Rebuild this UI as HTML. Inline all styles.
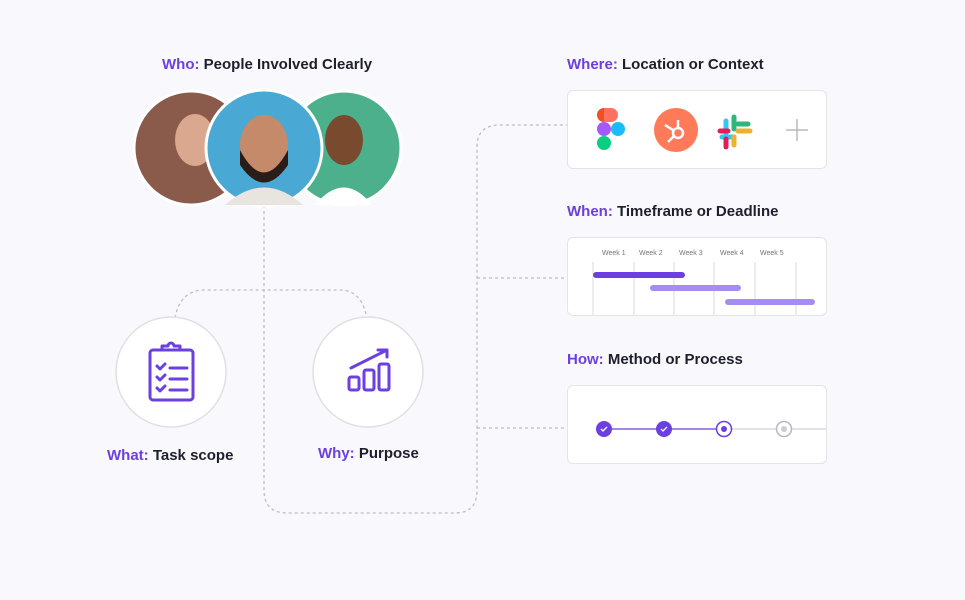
<!DOCTYPE html>
<html><head><style>
body{margin:0;width:965px;height:600px;background:#f8f8fd;font-family:"Liberation Sans",sans-serif;position:relative;overflow:hidden}
.t{position:absolute;font-size:15px;font-weight:bold;color:#1f1f2b;white-space:nowrap}
.t b{color:#6b3fe0}
.card{position:absolute;left:567px;width:258px;background:#fff;border:1.5px solid #e3e3e8;border-radius:6px}
</style></head><body>
<svg width="965" height="600" style="position:absolute;left:0;top:0">
<g fill="none" stroke="#bdbdc6" stroke-width="1.3" stroke-dasharray="3 3">
<path d="M264 205 V490 Q264 513 287 513 H455 Q477 513 477 490 V147 Q477 125 500 125 H567"/>
<path d="M477 278 H567 M477 428 H567"/>
<path d="M175 318 Q180 290 205 290 H340 Q360 290 366 314"/>
</g>
<circle cx="171" cy="372" r="55" fill="#fff" stroke="#e0e0e4" stroke-width="1.5"/>
<circle cx="368" cy="372" r="55" fill="#fff" stroke="#e0e0e4" stroke-width="1.5"/>
<g fill="none" stroke="#6b3fe0" stroke-width="3" stroke-linecap="round" stroke-linejoin="round">
<rect x="150" y="350" width="43" height="50" rx="3"/>
<path d="M162 350 v-4 h6 a3 3 0 0 1 6 0 h6 v4"/>
<path d="M157 366 l3 3 l5 -5 M157 377 l3 3 l5 -5 M157 388 l3 3 l5 -5 M170 368 h17 M170 379 h17 M170 390 h17"/>
<rect x="349" y="377" width="10" height="13" rx="2"/>
<rect x="364" y="370" width="10" height="20" rx="2"/>
<rect x="379" y="364" width="10" height="26" rx="2"/>
<path d="M351 368 L387 350 M378 350 h9 v7"/>
</g>
<circle cx="191" cy="148" r="57" fill="#8a5a4a" stroke="#fff" stroke-width="3"/>
<ellipse cx="195" cy="140" rx="20" ry="26" fill="#d9a88e"/>
<circle cx="344" cy="148" r="57" fill="#4db08c" stroke="#fff" stroke-width="3"/>
<ellipse cx="344" cy="140" rx="19" ry="25" fill="#7a4a2e"/>
<path d="M315 205 Q344 170 372 205Z" fill="#fff"/>
<circle cx="264" cy="148" r="58" fill="#4aa8d4" stroke="#fff" stroke-width="3"/>
<ellipse cx="264" cy="145" rx="24" ry="30" fill="#c58a6a"/>
<path d="M240 150 Q264 195 288 150 L288 165 Q264 200 240 165Z" fill="#2a1c16"/>
<path d="M225 205 Q264 170 303 205Z" fill="#e8e4e0"/>
</svg>
<div class="t" style="left:162px;top:56px"><b>Who:</b> People Involved Clearly</div>
<div class="t" style="left:107px;top:447px"><b>What:</b> Task scope</div>
<div class="t" style="left:318px;top:445px"><b>Why:</b> Purpose</div>
<div class="t" style="left:567px;top:56px"><b>Where:</b> Location or Context</div>
<div class="t" style="left:567px;top:203px"><b>When:</b> Timeframe or Deadline</div>
<div class="t" style="left:567px;top:351px"><b>How:</b> Method or Process</div>
<div class="card" style="top:90px;height:77px">
<svg width="258" height="77" style="position:absolute;left:0;top:0">
<rect x="29" y="17" width="14" height="14" rx="7" fill="#f24e1e"/><rect x="36" y="17" width="14" height="14" rx="7" fill="#ff7262"/><rect x="36" y="17" width="7" height="14" fill="#ff7262"/>
<rect x="29" y="31" width="14" height="14" rx="7" fill="#a259ff"/><circle cx="50" cy="38" r="7" fill="#1abcfe"/>
<rect x="29" y="45" width="14" height="14" rx="7" fill="#0acf83"/>
<circle cx="108" cy="39" r="22" fill="#ff7a59"/>
<g stroke="#fff" stroke-width="2.5" fill="none"><circle cx="110" cy="42" r="5"/><path d="M110 37 v-8 M106 45 l-6 6 M105 39 l-8 -5"/></g>
<g stroke-linecap="round" stroke-width="5"><path d="M158 30 v12" stroke="#36c5f0"/><path d="M166 26 v12" stroke="#2eb67d"/><path d="M170 40 h12" stroke="#ecb22e"/><path d="M154 46 h12" stroke="#36c5f0"/><path d="M166 46 v8" stroke="#ecb22e"/><path d="M158 48 v8" stroke="#e01e5a"/><path d="M170 33 h10" stroke="#2eb67d"/><path d="M152 40 h8" stroke="#e01e5a"/></g>
<path d="M229 28 v22 M218 39 h22" stroke="#b8b8c0" stroke-width="1.5"/>
</svg></div>
<div class="card" style="top:237px;height:77px">
<svg width="258" height="77" style="position:absolute;left:0;top:0;font-family:'Liberation Sans';font-size:7px;fill:#777">
<text x="34" y="17">Week 1</text><text x="71" y="17">Week 2</text><text x="111" y="17">Week 3</text><text x="152" y="17">Week 4</text><text x="192" y="17">Week 5</text>
<g stroke="#d8d8dc"><path d="M25 24 v53 M66 24 v53 M106 24 v53 M146 24 v53 M187 24 v53 M228 24 v53"/></g>
<g stroke-linecap="round" stroke-width="6"><path d="M28 37 h86" stroke="#6b3fe0"/><path d="M85 50 h85" stroke="#a58cf2"/><path d="M160 64 h84" stroke="#a58cf2"/></g>
</svg></div>
<div class="card" style="top:385px;height:77px">
<svg width="258" height="77" style="position:absolute;left:0;top:0">
<path d="M36 43 H156" stroke="#6b3fe0" stroke-width="1.3"/><path d="M156 43 H258" stroke="#d0d0d8" stroke-width="1.3"/>
<circle cx="36" cy="43" r="8" fill="#6b3fe0"/><circle cx="96" cy="43" r="8" fill="#6b3fe0"/>
<path d="M33 43 l2 2 l4 -4 M93 43 l2 2 l4 -4" stroke="#fff" stroke-width="1.3" fill="none"/>
<circle cx="156" cy="43" r="7.5" fill="#fff" stroke="#6b3fe0" stroke-width="1.5"/><circle cx="156" cy="43" r="3" fill="#6b3fe0"/>
<circle cx="216" cy="43" r="7.5" fill="#fff" stroke="#b8b8c4" stroke-width="1.5"/><circle cx="216" cy="43" r="3" fill="#ccccd4"/>
</svg></div>
</body></html>
